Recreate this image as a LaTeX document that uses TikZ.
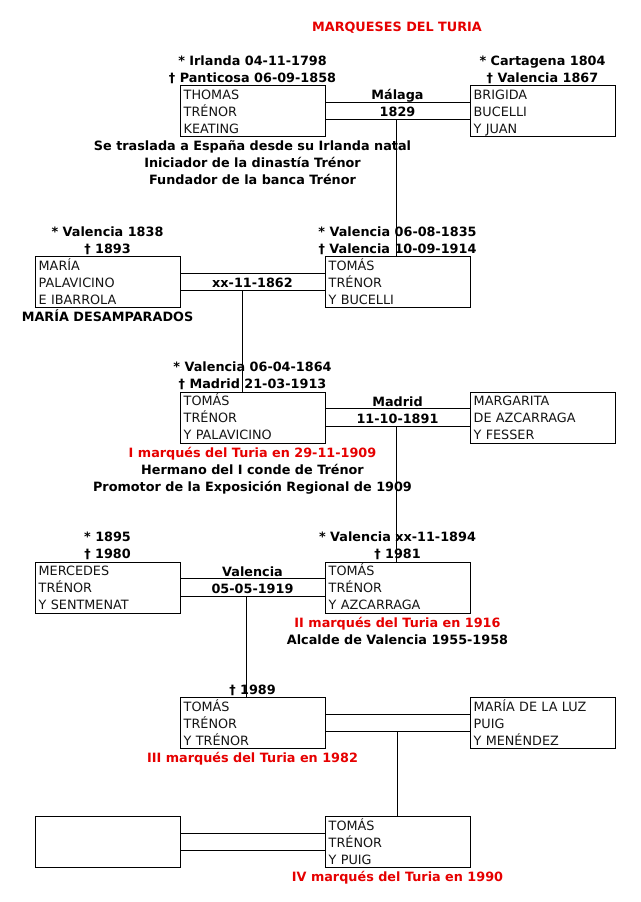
\documentclass[tikz,border=0pt]{standalone}
\usepackage{fontspec}
\setmainfont{DejaVu Sans}
\usetikzlibrary{calc}
\definecolor{tred}{RGB}{230,0,0}
\definecolor{btext}{RGB}{20,20,20}
\tikzset{
  pbox/.style={draw=black, line width=1pt, minimum width=145pt, minimum height=51pt, inner sep=0pt},
  ptext/.style={anchor=base west, inner sep=0pt, text width=138pt, align=left, text=btext, font=\fontsize{12.8}{17}\selectfont},
  lbl/.style={anchor=base, inner sep=0pt, font=\fontsize{12.8}{17}\selectfont\bfseries},
  rlbl/.style={lbl, text=tred},
  conn/.style={line width=1pt, black}
}
\newcommand\pbox[6]{%
  \node[pbox] (#1) at (#2+72.5,#3+25.5) {};
  \node[ptext] (#1t) at ($(#1.north west)+(4,14)$) {#4\\#5\\#6};
}
\newcommand\couple[2]{%
  \coordinate (#1-u) at ($(#1.north east)!0.3333!(#1.south east)$);
  \coordinate (#1-l) at ($(#1.north east)!0.6667!(#1.south east)$);
  \draw[conn] (#1-u) -- (#1-u -| #2.west);
  \draw[conn] (#1-l) -- (#1-l -| #2.west);
}
\begin{document}
\begin{tikzpicture}[x=1pt,y=-1pt]
\useasboundingbox[fill=white] (0,0) rectangle (640,902);
% title
\node[rlbl] (title) at (397,31.5) {MARQUESES DEL TURIA};
% row 1
\pbox{thomas}{180}{85.5}{THOMAS}{TRÉNOR}{KEATING}
\pbox{brigida}{470}{85.5}{BRIGIDA}{BUCELLI}{Y JUAN}
\couple{thomas}{brigida}
\node[lbl] (t1a) at (252.5,65) {* Irlanda 04-11-1798};
\node[lbl] (t1b) at (252.5,82) {† Panticosa 06-09-1858};
\node[lbl] (b1a) at (542.5,65) {* Cartagena 1804};
\node[lbl] (b1b) at (542.5,82) {† Valencia 1867};
\node[lbl] (m1a) at (397.5,99.5) {Málaga};
\node[lbl] (m1b) at (397.5,116.5) {1829};
\node[lbl] (n1a) at (252.5,150.5) {Se traslada a España desde su Irlanda natal};
\node[lbl] (n1b) at (252.5,167.5) {Iniciador de la dinastía Trénor};
\node[lbl] (n1c) at (252.5,184.5) {Fundador de la banca Trénor};
% row 2
\pbox{maria}{35}{256.5}{MARÍA}{PALAVICINO}{E IBARROLA}
\pbox{tomas2}{325}{256.5}{TOMÁS}{TRÉNOR}{Y BUCELLI}
\couple{maria}{tomas2}
\node[lbl] (ma) at (107.5,236) {* Valencia 1838};
\node[lbl] (mb) at (107.5,253) {† 1893};
\node[lbl] (t2a) at (397.5,236) {* Valencia 06-08-1835};
\node[lbl] (t2b) at (397.5,253) {† Valencia 10-09-1914};
\node[lbl] (m2b) at (252.5,287.5) {xx-11-1862};
\node[lbl] (mc) at (107.5,321.5) {MARÍA DESAMPARADOS};
% row 3
\pbox{tomas3}{180}{392}{TOMÁS}{TRÉNOR}{Y PALAVICINO}
\pbox{margarita}{470}{392}{MARGARITA}{DE AZCARRAGA}{Y FESSER}
\couple{tomas3}{margarita}
\node[lbl] (t3a) at (252.5,371.5) {* Valencia 06-04-1864};
\node[lbl] (t3b) at (252.5,388.5) {† Madrid 21-03-1913};
\node[lbl] (m3a) at (397.5,406) {Madrid};
\node[lbl] (m3b) at (397.5,423) {11-10-1891};
\node[rlbl] (n3a) at (252.5,457) {I marqués del Turia en 29-11-1909};
\node[lbl] (n3b) at (252.5,474) {Hermano del I conde de Trénor};
\node[lbl] (n3c) at (252.5,491) {Promotor de la Exposición Regional de 1909};
% row 4
\pbox{mercedes}{35}{562}{MERCEDES}{TRÉNOR}{Y SENTMENAT}
\pbox{tomas4}{325}{562}{TOMÁS}{TRÉNOR}{Y AZCARRAGA}
\couple{mercedes}{tomas4}
\node[lbl] (mea) at (107.5,541.5) {* 1895};
\node[lbl] (meb) at (107.5,558.5) {† 1980};
\node[lbl] (t4a) at (397.5,541.5) {* Valencia xx-11-1894};
\node[lbl] (t4b) at (397.5,558.5) {† 1981};
\node[lbl] (m4a) at (252.5,576) {Valencia};
\node[lbl] (m4b) at (252.5,593) {05-05-1919};
\node[rlbl] (n4a) at (397.5,627) {II marqués del Turia en 1916};
\node[lbl] (n4b) at (397.5,644) {Alcalde de Valencia 1955-1958};
% row 5
\pbox{tomas5}{180}{697.5}{TOMÁS}{TRÉNOR}{Y TRÉNOR}
\pbox{luz}{470}{697.5}{MARÍA DE LA LUZ}{PUIG}{Y MENÉNDEZ}
\couple{tomas5}{luz}
\node[lbl] (t5b) at (252.5,694) {† 1989};
\node[rlbl] (n5a) at (252.5,762.5) {III marqués del Turia en 1982};
% row 6
\node[pbox] (empty) at (35+72.5,816.5+25.5) {};
\pbox{tomas6}{325}{816.5}{TOMÁS}{TRÉNOR}{Y PUIG}
\couple{empty}{tomas6}
\node[rlbl] (n6a) at (397.5,881.5) {IV marqués del Turia en 1990};
% descent lines
\coordinate (d1) at ($(thomas-l)+(71,0)$);
\draw[conn] (d1) -- (d1 |- tomas2.north);
\coordinate (d2) at ($(maria-l)+(62,0)$);
\draw[conn] (d2) -- (d2 |- tomas3.north);
\coordinate (d3) at ($(tomas3-l)+(71,0)$);
\draw[conn] (d3) -- (d3 |- tomas4.north);
\coordinate (d4) at ($(mercedes-l)+(66,0)$);
\draw[conn] (d4) -- (d4 |- tomas5.north);
\coordinate (d5) at ($(tomas5-l)+(72,0)$);
\draw[conn] (d5) -- (d5 |- tomas6.north);
\end{tikzpicture}
\end{document}
